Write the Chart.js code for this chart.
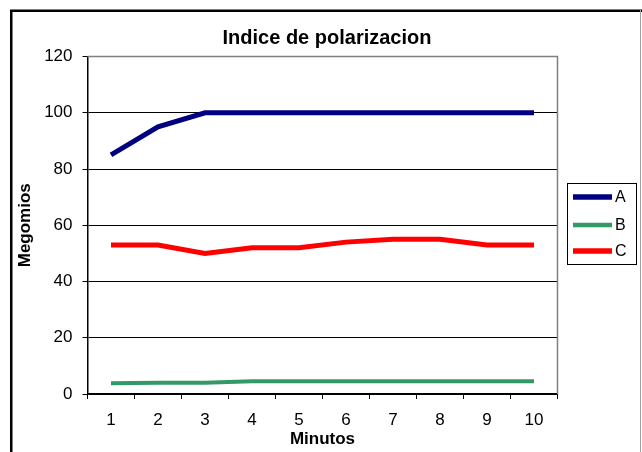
<!DOCTYPE html>
<html>
<head>
<meta charset="utf-8">
<script src="https://cdn.jsdelivr.net/npm/chart.js@4"></script>
<style>
  body { margin: 0; background: #fff; }
  #wrap { width: 642px; height: 452px; position: relative; }
</style>
</head>
<body>
<div id="wrap"><canvas id="myChart" width="642" height="452"></canvas></div>
<script>
var minutos = ['1', '2', '3', '4', '5', '6', '7', '8', '9', '10'];
var serieA = [85, 95, 100, 100, 100, 100, 100, 100, 100, 100];
var serieB = [3.8, 4, 4, 4.5, 4.5, 4.5, 4.5, 4.5, 4.5, 4.5];
var serieC = [53, 53, 50, 52, 52, 54, 55, 55, 53, 53];
var yTicks = [0, 20, 40, 60, 80, 100, 120];

var fuente = 'Arial, "Liberation Sans", sans-serif';

// marco, titulo, borde gris y leyenda al estilo Excel
var extras = {
  id: 'extras',
  afterDraw: function (chart) {
    var ctx = chart.ctx;
    var area = chart.chartArea;
    ctx.save();

    ctx.strokeStyle = '#808080';
    ctx.lineWidth = 1.5;
    ctx.beginPath();
    ctx.moveTo(area.left, area.top);
    ctx.lineTo(area.right, area.top);
    ctx.lineTo(area.right, area.bottom);
    ctx.stroke();

    // marco exterior
    ctx.strokeStyle = '#000';
    ctx.lineWidth = 2.5;
    ctx.beginPath();
    ctx.moveTo(11.25, 460);
    ctx.lineTo(11.25, 10.75);
    ctx.lineTo(642, 10.75);
    ctx.stroke();
    ctx.strokeStyle = '#a0a0a0';
    ctx.lineWidth = 1;
    ctx.beginPath();
    ctx.moveTo(640.5, 10);
    ctx.lineTo(640.5, 460);
    ctx.stroke();

    ctx.fillStyle = '#000';
    ctx.font = 'bold 20px ' + fuente;
    ctx.textAlign = 'center';
    ctx.textBaseline = 'middle';
    ctx.fillText('Indice de polarizacion', 327, 38);

    // leyenda
    ctx.lineWidth = 1;
    ctx.strokeStyle = '#000';
    ctx.strokeRect(567.5, 183.5, 69, 81);
    ctx.font = '16px ' + fuente;
    ctx.textAlign = 'left';
    var ys = [197, 225, 251];
    chart.data.datasets.forEach(function (ds, i) {
      ctx.strokeStyle = ds.borderColor;
      ctx.lineWidth = ds.borderWidth + 0.5;
      ctx.beginPath();
      ctx.moveTo(573, ys[i]);
      ctx.lineTo(612, ys[i]);
      ctx.stroke();
      ctx.fillStyle = '#000';
      ctx.fillText(ds.label, 615, ys[i] + 1);
    });
    ctx.restore();
  }
};

var config = {
  type: 'line',
  data: {
    labels: minutos,
    datasets: [
      { label: 'A', data: serieA, borderColor: '#000080', borderWidth: 5 },
      { label: 'B', data: serieB, borderColor: '#339966', borderWidth: 4 },
      { label: 'C', data: serieC, borderColor: '#ff0000', borderWidth: 5 }
    ]
  },
  options: {
    responsive: false,
    animation: false,
    layout: { padding: { left: 0, right: 84.5, top: 56.5, bottom: 0 } },
    elements: {
      point: { radius: 0 },
      line: { tension: 0, borderJoinStyle: 'miter', borderCapStyle: 'butt' }
    },
    plugins: {
      legend: { display: false },
      title: { display: false },
      tooltip: { enabled: false }
    },
    scales: {
      x: {
        offset: true,
        grid: {
          offset: true,
          drawOnChartArea: false,
          color: '#000',
          tickLength: 5
        },
        border: { color: '#000', width: 1.5 },
        ticks: {
          color: '#000',
          font: { size: 17, family: fuente },
          padding: 11,
          maxRotation: 0
        },
        title: {
          display: true,
          text: 'Minutos',
          color: '#000',
          font: { size: 17, weight: 'bold', family: fuente },
          padding: { top: 0, bottom: 2 }
        },
        afterFit: function (s) { s.height = 58; }
      },
      y: {
        min: 0,
        max: 120,
        afterBuildTicks: function (s) {
          s.ticks = yTicks.map(function (v) { return { value: v }; });
        },
        grid: {
          color: function (c) { return c.tick && c.tick.value === 120 ? '#808080' : '#000'; },
          tickColor: '#000',
          tickLength: 5
        },
        border: { color: '#000', width: 1.5 },
        ticks: {
          color: '#000',
          font: { size: 17, family: fuente },
          padding: 10
        },
        title: {
          display: true,
          text: 'Megomios',
          color: '#000',
          font: { size: 17, weight: 'bold', family: fuente },
          padding: { top: 15, bottom: 0 }
        },
        afterFit: function (s) { s.width = 87.5; }
      }
    }
  },
  plugins: [extras]
};

new Chart(document.getElementById('myChart'), config);
</script>
</body>
</html>
